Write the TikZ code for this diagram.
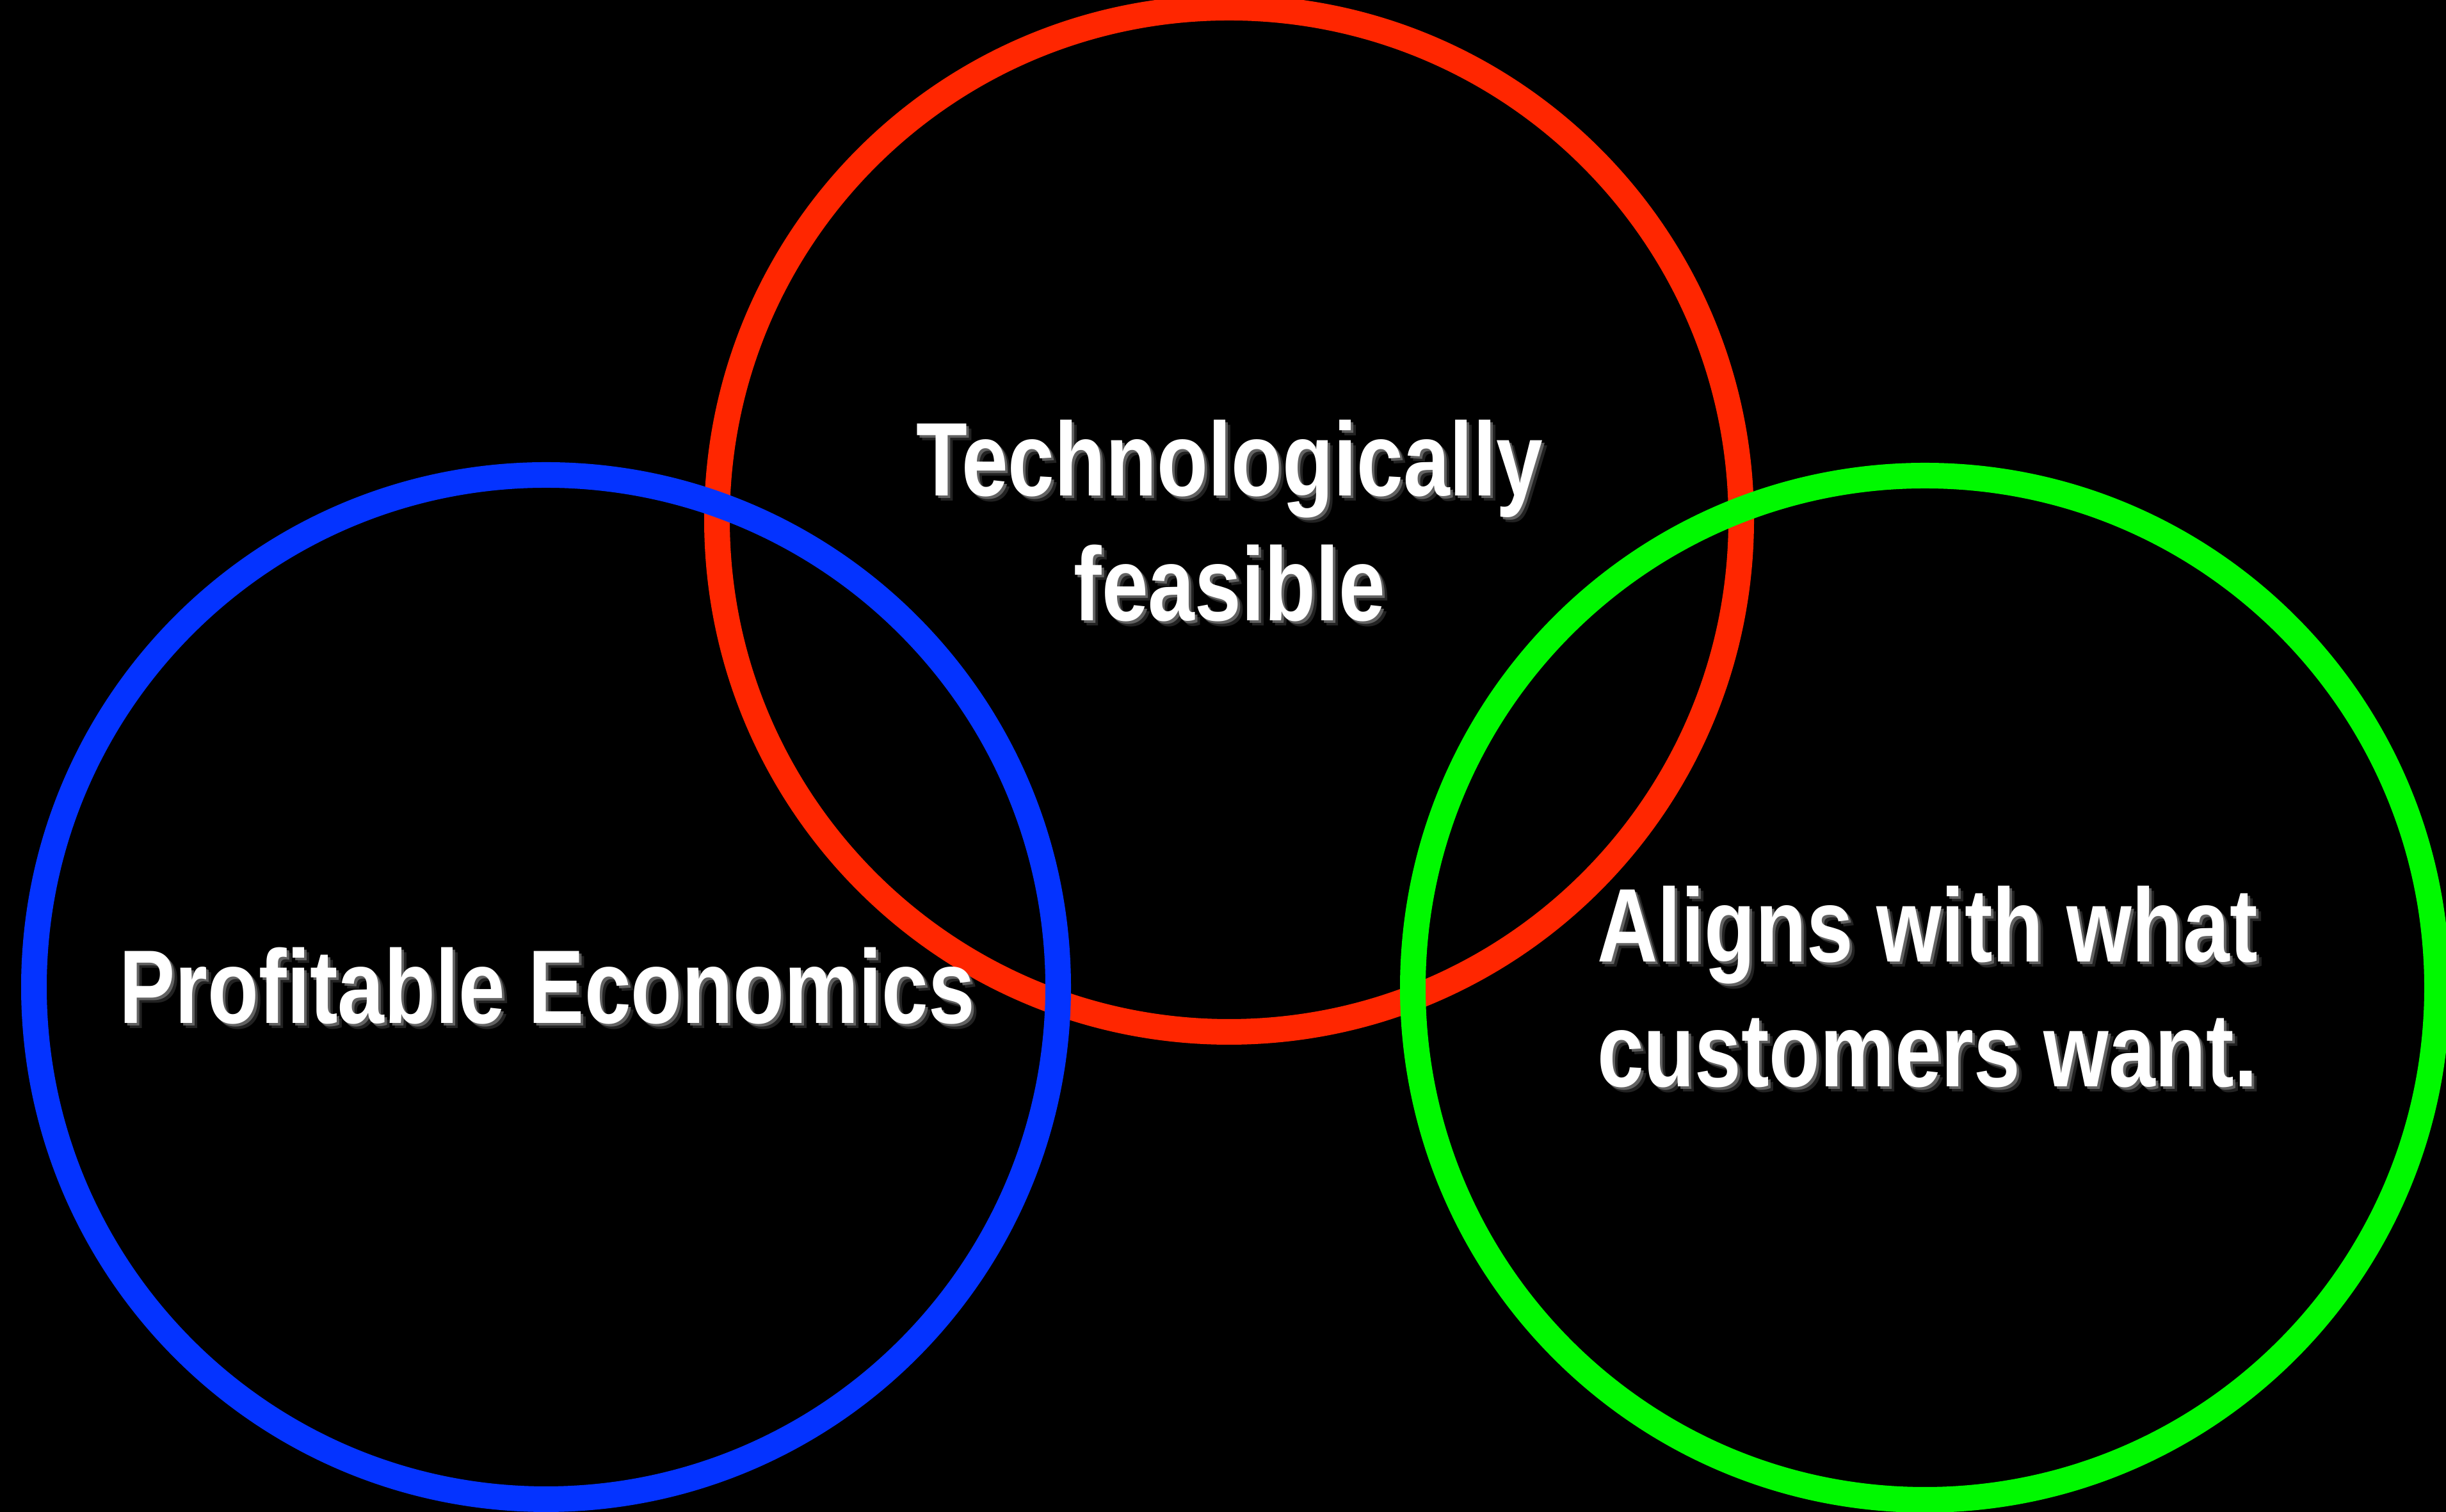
\documentclass[tikz,border=0pt]{standalone}
\usepackage{fontspec}
\newfontfamily\labelfont[FakeStretch=0.8]{Liberation Sans}

\definecolor{ringred}{RGB}{255,38,0}
\definecolor{ringblue}{RGB}{4,51,255}
\definecolor{ringgreen}{RGB}{0,249,0}

\tikzset{
  ring/.style={draw=#1, line width=0.4cm, fill=none},
  labeltext/.style={text=white, inner sep=0pt, anchor=base,
    font=\labelfont\bfseries\fontsize{46.5pt}{56pt}\selectfont},
  labelshadow/.style={labeltext, text=#1},
}

% a white line of text with a soft dark-grey drop shadow
\newcommand{\shadedline}[3]{%
  \node[labelshadow=black!70!white, opacity=0.45] (#1-s2) at ([shift={(0.08,-0.08)}]#2) {#3};
  \node[labelshadow=black!55!white, opacity=0.8] (#1-s1) at ([shift={(0.04,-0.04)}]#2) {#3};
  \node[labeltext] (#1) at (#2) {#3};
}

\begin{document}
\begin{tikzpicture}
  % canvas
  \fill[black] (0,0) rectangle (38.21,23.62);
  \useasboundingbox (0,0) rectangle (38.21,23.62);

  % the three rings (red underneath)
  \draw[ring=ringred]   (19.20,15.50) circle[radius=8.0];
  \draw[ring=ringblue]  (8.53,8.20)   circle[radius=8.0];
  \draw[ring=ringgreen] (30.07,8.19)  circle[radius=8.0];

  % labels
  \shadedline{tech1}{19.21,15.87}{Technologically}
  \shadedline{tech2}{19.21,13.92}{feasible}
  \shadedline{econ}{8.55,7.63}{Profitable Economics}
  \shadedline{cust1}{30.11,8.59}{Aligns with what}
  \shadedline{cust2}{30.11,6.64}{customers want.}
\end{tikzpicture}
\end{document}
